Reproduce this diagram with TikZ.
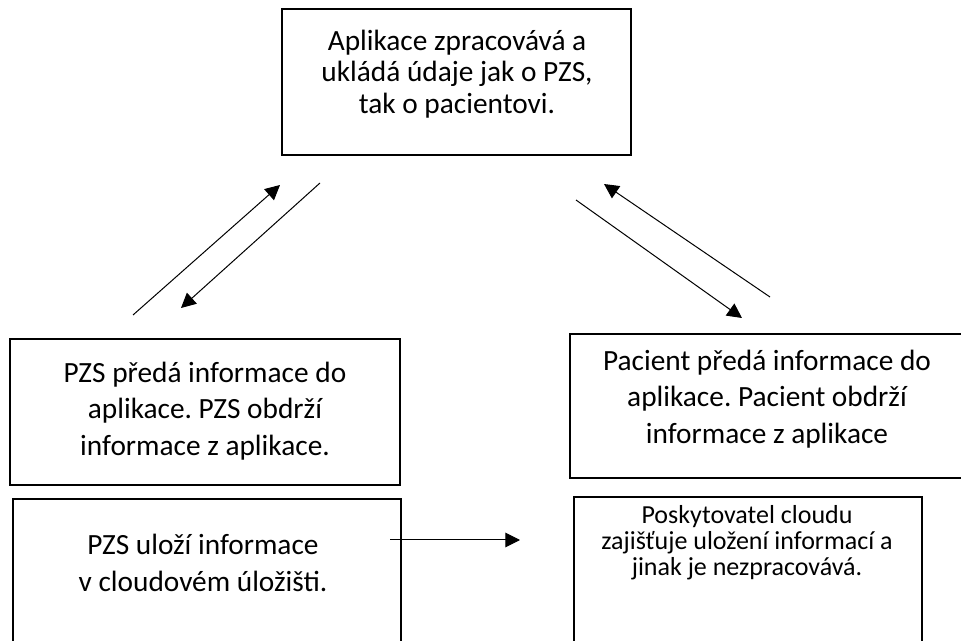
\documentclass[tikz,border=0pt]{standalone}
\usepackage{fontspec}
\setmainfont{Carlito}
\frenchspacing
\usetikzlibrary{arrows.meta}
\tikzset{
  box/.style={line width=1.5pt, draw=black},
  link/.style={line width=0.75pt, -{Triangle[length=11pt,width=11pt]}},
  txt/.style={align=center, font=\fontsize{22}{27.5}\selectfont},
}

\begin{document}
\begin{tikzpicture}[x=0.75pt, y=-0.75pt]
  \useasboundingbox (0,0) rectangle (961,641);
  \clip (0,0) rectangle (961,641);

  % boxes
  \draw[box] (282,9) rectangle (631,155);   % application
  \draw[box] (10,339) rectangle (400,485);  % PZS
  \draw[box] (13,499) rectangle (401,660);  % PZS storage
  \draw[box] (570,334) rectangle (964,478); % patient
  \draw[box] (574,497) rectangle (922,660); % cloud provider

  % texts
  \node[txt, font=\fontsize{22}{23.6}\selectfont] (app) at (457,74)
    {Aplikace zpracovává a\\ukládá údaje jak o PZS,\\tak o pacientovi.};
  \node[txt] (pzs) at (205,411)
    {PZS předá informace do\\aplikace. PZS obdrží\\informace z aplikace.};
  \node[txt] (pac) at (767,399)
    {Pacient předá informace do\\aplikace. Pacient obdrží\\informace z aplikace};
  \node[txt] (store) at (203,563)
    {PZS uloží informace\\v cloudovém úložišti.};
  \node[txt, font=\fontsize{19.5}{19.5}\selectfont] (cloud) at (747,543)
    {Poskytovatel cloudu\\zajišťuje uložení informací a\\jinak je nezpracovává.};

  % arrow ends
  \coordinate (pzsUp) at (133,315);
  \coordinate (appInL) at (280,185);
  \coordinate (appOutL) at (320,183);
  \coordinate (pzsIn) at (181,308);
  \coordinate (appOutR) at (576,200);
  \coordinate (pacIn) at (742,318);
  \coordinate (pacUp) at (770,297);
  \coordinate (appInR) at (604,184);
  \coordinate (storeOut) at (390,540);
  \coordinate (cloudIn) at (520,540);

  \draw[link] (pzsUp) -- (appInL);
  \draw[link] (appOutL) -- (pzsIn);
  \draw[link] (appOutR) -- (pacIn);
  \draw[link] (pacUp) -- (appInR);
  \draw[link] (storeOut) -- (cloudIn);
\end{tikzpicture}
\end{document}
